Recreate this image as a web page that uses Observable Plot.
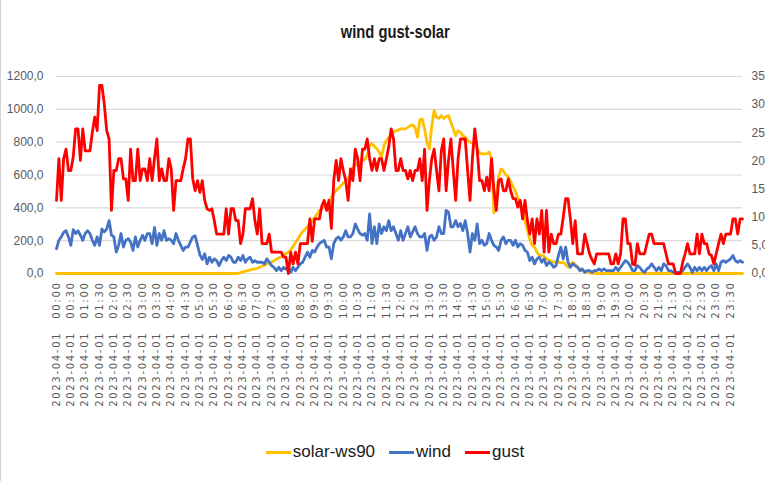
<!DOCTYPE html>
<html><head><meta charset="utf-8">
<script src="https://cdn.jsdelivr.net/npm/d3@7"></script>
<script src="https://cdn.jsdelivr.net/npm/@observablehq/plot@0.6"></script>
<style>
html,body{margin:0;padding:0;background:#fff;}
#wrap{position:relative;width:765px;height:481px;overflow:hidden;font-family:"Liberation Sans Narrow","Arial Narrow","Liberation Sans",sans-serif;border-left:1px solid #d4d4d4;box-sizing:border-box;}
#title{position:absolute;left:10px;top:20px;width:765px;text-align:center;font-size:18px;font-weight:bold;color:#1a1a1a;line-height:24px;transform:scaleX(0.82);transform-origin:392px 0;}
#chart{position:absolute;left:-1px;top:50px;}
#legend{position:absolute;left:0;top:440px;width:788px;height:24px;display:flex;justify-content:center;align-items:center;font-size:17px;color:#1a1a1a;}
.item{display:flex;align-items:center;margin:0 7px;}
.sw{width:25px;height:3px;margin-right:2px;}
[aria-label="x-axis tick label"] text{letter-spacing:1.7px;word-spacing:8px;}
</style></head>
<body><div id="wrap"><div id="title">wind gust-solar</div><div id="chart"></div><div id="legend"></div></div>
<script>
const seriesNames = ["solar-ws90", "wind", "gust"];
const seriesColors = ["#FFC000", "#4472C4", "#FF0000"];
const leftTicks = [0, 200, 400, 600, 800, 1000, 1200];
const rightTicks = [0, 5, 10, 15, 20, 25, 30, 35];
const timeLabels = [
"2023-04-01 00:00","2023-04-01 00:30","2023-04-01 01:00","2023-04-01 01:30","2023-04-01 02:00","2023-04-01 02:30",
"2023-04-01 03:00","2023-04-01 03:30","2023-04-01 04:00","2023-04-01 04:30","2023-04-01 05:00","2023-04-01 05:30",
"2023-04-01 06:00","2023-04-01 06:30","2023-04-01 07:00","2023-04-01 07:30","2023-04-01 08:00","2023-04-01 08:30",
"2023-04-01 09:00","2023-04-01 09:30","2023-04-01 10:00","2023-04-01 10:30","2023-04-01 11:00","2023-04-01 11:30",
"2023-04-01 12:00","2023-04-01 12:30","2023-04-01 13:00","2023-04-01 13:30","2023-04-01 14:00","2023-04-01 14:30",
"2023-04-01 15:00","2023-04-01 15:30","2023-04-01 16:00","2023-04-01 16:30","2023-04-01 17:00","2023-04-01 17:30",
"2023-04-01 18:00","2023-04-01 18:30","2023-04-01 19:00","2023-04-01 19:30","2023-04-01 20:00","2023-04-01 20:30",
"2023-04-01 21:00","2023-04-01 21:30","2023-04-01 22:00","2023-04-01 22:30","2023-04-01 23:00","2023-04-01 23:30"];
// 5-minute samples, 288 per series
const solar = [
0,0,0,0,0,0,0,0,0,0, 0,0,0,0,0,0,0,0,0,0, 0,0,0,0,0,0,0,0,0,0, 0,0,0,0,0,0,0,0,0,0,
0,0,0,0,0,0,0,0,0,0, 0,0,0,0,0,0,0,0,0,0, 0,0,0,0,0,0,0,0,0,0, 0,0,0,0,0,0,0,5,10,14,
18,22,26,28,32,38,45,50,58,65, 70,78,88,95,102,112,120,130,145,165,
190,210,235,255,270,285,300,320,340,360, 385,395,405,420,435,465,490,505,520,535,
550,560,580,595,640,660,675,680,688,695, 720,779,790,775,760,740,708,780,810,830,
845,860,870,875,881,881,881,890,901,905, 890,830,935,942,880,800,759,900,993,950,
945,962,945,955,962,920,881,840,870,860, 840,830,810,800,795,780,760,735,729,729,
729,740,700,369,480,590,637,625,600,590, 560,530,500,460,434,384,320,262,210,170,
160,130,110,110,105,90,80,75,69,72, 69,65,69,55,39,55,69,55,39,30,
18,15,8,4,2,0,0,0,0,0, 0,0,0,0,0,0,0,0,0,0, 0,0,0,0,0,0,0,0,0,0,
0,0,0,0,0,0,0,0,0,0, 0,0,0,0,0,0,0,0,0,0, 0,0,0,0,0,0,0,0,0,0, 0,0,0,0,0,0,0,0];
const wind = [
4.4,5.9,6.5,7.3,7.6,6.5,5.0,7.8,7.1,7.6, 6.8,5.9,7.1,7.6,7.1,5.9,5.0,6.5,5.0,7.9,
7.4,7.9,9.4,6.8,6.5,3.8,5.0,7.1,4.7,5.9, 6.2,5.6,4.1,6.5,4.7,5.9,6.8,5.9,7.1,7.1,
5.3,8.2,5.0,7.1,5.9,7.6,5.9,6.2,5.9,5.3, 7.1,5.9,5.0,4.1,4.7,4.7,5.6,6.5,6.7,5.0,
3.3,2.5,3.5,1.7,2.9,2.0,2.6,2.3,1.4,2.3, 2.9,2.3,3.2,2.9,2.0,2.0,2.9,2.3,3.2,2.0,
2.6,2.9,2.0,2.3,2.0,2.0,2.0,1.7,2.6,2.0, 1.4,1.1,0.5,1.1,0.5,1.1,0.8,1.1,0.2,1.1,
0.5,1.1,1.7,2.0,2.9,3.8,2.9,4.1,3.8,4.7, 5.3,5.6,5.9,4.7,4.7,2.6,5.3,6.2,6.5,5.9,
6.5,7.6,6.5,6.5,7.1,8.8,7.9,7.1,6.8,7.1, 5.9,10.6,5.3,8.3,5.3,8.8,7.1,8.3,7.6,9.4,
7.6,8.3,7.1,5.9,7.6,5.9,7.1,8.3,6.5,7.4, 8.3,7.1,6.5,6.5,7.1,4.1,6.5,6.8,5.9,6.5,
8.3,7.1,7.1,11.2,10.9,8.3,8.3,9.4,8.3,8.9, 7.6,9.4,7.1,3.8,7.1,5.9,8.8,5.3,5.9,5.0,
5.3,7.1,5.9,5.0,4.7,4.1,5.9,6.5,5.3,5.9, 5.9,5.0,5.9,4.7,5.3,5.0,4.1,3.8,2.3,2.9,
1.7,2.6,2.9,2.0,2.6,1.4,2.0,1.7,1.1,1.4, 3.2,4.7,2.6,4.7,2.0,1.1,1.7,1.4,1.1,0.5,
0.8,0.2,0.5,0.5,0.2,0.5,0.5,0.8,0.5,0.8, 0.5,0.5,0.5,0.5,1.1,0.5,1.1,1.7,2.3,2.0,
1.4,0.5,0.5,1.4,1.1,0.5,0.2,0.8,1.1,1.7, 1.1,0.5,1.1,0.5,1.7,1.4,0.5,0.5,0.2,0.2,
0.2,0.2,0.5,1.1,1.7,1.1,0.2,1.1,0.5,1.1, 0.5,1.1,0.5,1.1,1.4,0.5,1.7,0.5,2.0,2.3,
2.0,2.3,2.6,3.2,2.3,2.0,2.3,2.0];
const gust = [
13.0,20.4,13.0,20.4,22.1,18.3,18.3,20.7,25.7,25.7, 20.1,25.7,21.8,21.8,21.8,25.1,27.8,25.4,33.4,33.4,
30.1,25.4,23.9,11.2,18.3,18.3,20.4,20.4,16.8,16.8, 13.0,22.1,16.5,16.5,22.1,16.5,18.6,18.6,16.5,20.4,
16.5,20.4,23.9,16.5,18.6,16.5,16.5,20.4,18.6,11.2, 16.5,16.5,16.5,18.6,20.4,23.9,23.9,16.8,14.7,16.5,
14.4,16.5,13.0,11.5,11.2,11.5,9.4,7.0,7.0,7.0, 7.0,11.5,7.0,11.5,11.5,9.4,9.4,5.3,7.0,11.5,
11.5,11.5,13.3,9.4,7.0,11.5,5.3,5.3,5.3,7.0, 3.8,3.8,3.8,3.8,3.8,2.9,2.9,0.0,3.8,1.7,
3.8,1.7,5.3,5.3,5.3,5.3,9.7,5.7,9.7,9.7, 9.7,12.0,13.0,11.2,13.0,8.0,16.6,20.1,16.5,20.4,
18.3,16.5,13.0,18.6,16.5,22.1,20.4,16.5,22.1,22.1, 23.9,20.4,18.3,20.4,18.3,20.4,20.4,18.3,20.4,22.5,
25.7,23.9,18.3,18.3,20.4,18.3,18.3,16.8,18.3,16.5, 18.3,18.3,20.4,16.5,22.1,11.2,16.5,20.4,22.1,18.3,
14.7,21.8,23.9,14.7,20.1,23.9,18.3,13.0,20.4,23.9, 23.9,23.9,18.3,13.0,20.4,25.7,22.1,16.5,16.5,14.7,
17.1,14.7,20.4,14.7,11.2,16.5,16.8,14.7,14.7,16.8, 14.7,13.3,13.3,11.8,13.0,9.7,13.0,9.4,7.0,9.7,
5.3,9.7,7.0,11.2,3.8,11.2,3.8,7.0,5.3,5.3, 7.0,7.0,10.0,13.3,13.3,9.7,5.3,9.4,3.5,3.5,
3.5,7.0,5.3,3.5,2.5,1.7,3.5,3.5,3.5,3.5, 3.5,3.5,1.7,1.7,3.5,1.7,3.5,9.7,9.7,5.3,
5.3,1.7,1.5,5.3,3.5,3.5,3.5,5.3,7.0,7.0, 5.3,5.3,5.3,5.3,5.3,3.5,1.7,1.7,1.7,0.0,
0.0,0.0,2.0,3.5,5.3,3.5,3.5,3.5,7.0,3.5, 7.0,5.3,5.3,3.5,3.2,1.7,3.5,5.3,7.0,5.3,
7.0,7.0,7.0,9.7,9.7,7.0,9.7,9.7];

const leftMax = leftTicks[leftTicks.length - 1];
const rightMax = rightTicks[rightTicks.length - 1];
const k = leftMax / rightMax;
const fmt = v => v.toFixed(1).replace(".", ",");
const labelIdx = timeLabels.map((_, j) => j * 6);
const lineOpts = {x: (d, i) => i, strokeWidth: 2.8, strokeLinejoin: "round", strokeLinecap: "round"};

const chart = Plot.plot({
  width: 765, height: 370,
  marginLeft: 56, marginRight: 23, marginTop: 26, marginBottom: 147,
  x: {domain: [0, solar.length - 1], axis: null},
  y: {domain: [0, leftMax], axis: null},
  style: {fontFamily: '"Liberation Sans Narrow","Arial Narrow","Liberation Sans",sans-serif', fontSize: "12px", color: "#595959", background: "transparent", overflow: "visible"},
  marks: [
    Plot.ruleY(leftTicks, {stroke: "#d9d9d9", strokeWidth: 1.2}),
    Plot.axisY(leftTicks, {anchor: "left", tickSize: 0, tickPadding: 13, tickFormat: fmt, label: null, fill: "#595959"}),
    Plot.axisY(rightTicks.map(v => v * k), {anchor: "right", tickSize: 0, tickPadding: 9, tickFormat: v => fmt(v / k), label: null, fill: "#595959"}),
    Plot.axisX(labelIdx, {anchor: "bottom", tickSize: 0, tickPadding: 8, tickRotate: -90, tickFormat: d => timeLabels[d / 6], label: null, fill: "#595959", fontSize: 10, fontFamily: "DejaVu Sans"}),
    Plot.lineY(solar, {...lineOpts, y: d => d, stroke: seriesColors[0]}),
    Plot.lineY(wind, {...lineOpts, y: d => d * k, stroke: seriesColors[1]}),
    Plot.lineY(gust, {...lineOpts, y: d => d * k, stroke: seriesColors[2]})
  ]
});
document.getElementById("chart").appendChild(chart);

const legend = d3.select("#legend");
seriesNames.forEach((n, j) => {
  const it = legend.append("div").attr("class", "item");
  it.append("div").attr("class", "sw").style("background", seriesColors[j]);
  it.append("span").text(n);
});
</script></body></html>
